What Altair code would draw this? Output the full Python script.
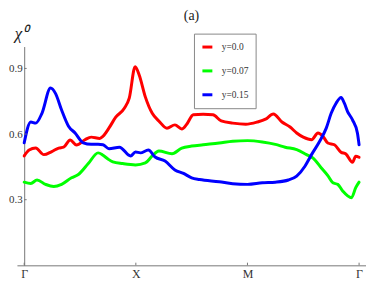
import json
import altair as alt
import pandas as pd

# ---- data ----
series_names = ["y=0.0", "y=0.07", "y=0.15"]
series_colors = ["#ff0000", "#00ff00", "#0000ff"]

red_k = [0, 0.044, 0.103, 0.176, 0.247, 0.309, 0.353, 0.412, 0.468, 0.544, 0.60, 0.677, 0.706, 0.76,
         0.82, 0.897, 0.941, 0.994, 1.03, 1.085, 1.147, 1.206, 1.279, 1.35, 1.412, 1.456, 1.515, 1.603,
         1.691, 1.765, 1.868, 1.985, 2.088, 2.162, 2.232, 2.309, 2.382, 2.441, 2.50, 2.574, 2.632, 2.676,
         2.72, 2.779, 2.838, 2.882, 2.941, 2.97, 3.0]
red_v = [0.50, 0.527, 0.536, 0.506, 0.52, 0.536, 0.54, 0.573, 0.55, 0.574, 0.586, 0.58, 0.59, 0.628,
         0.677, 0.718, 0.764, 0.908, 0.87, 0.77, 0.695, 0.66, 0.627, 0.642, 0.623, 0.645, 0.688, 0.69,
         0.688, 0.66, 0.65, 0.645, 0.655, 0.668, 0.692, 0.655, 0.632, 0.605, 0.586, 0.574, 0.605, 0.59,
         0.559, 0.551, 0.517, 0.509, 0.471, 0.499, 0.494]

green_k = [0, 0.059, 0.115, 0.191, 0.265, 0.335, 0.424, 0.485, 0.574, 0.662, 0.706, 0.75, 0.794, 0.882,
           0.997, 1.085, 1.147, 1.206, 1.324, 1.412, 1.5, 1.603, 1.747, 1.868, 2.0, 2.133, 2.25, 2.338,
           2.441, 2.529, 2.588, 2.662, 2.72, 2.765, 2.809, 2.853, 2.932, 2.97, 3.0]
green_v = [0.38, 0.374, 0.39, 0.37, 0.36, 0.37, 0.40, 0.415, 0.465, 0.514, 0.503, 0.486, 0.473, 0.465,
           0.459, 0.468, 0.50, 0.523, 0.51, 0.536, 0.545, 0.551, 0.559, 0.567, 0.57, 0.564, 0.553, 0.54,
           0.529, 0.506, 0.49, 0.445, 0.41, 0.377, 0.37, 0.34, 0.309, 0.355, 0.38]

blue_k = [0, 0.059, 0.103, 0.159, 0.236, 0.28, 0.335, 0.397, 0.456, 0.529, 0.60, 0.662, 0.706, 0.76,
          0.853, 0.953, 0.997, 1.041, 1.112, 1.173, 1.262, 1.35, 1.427, 1.5, 1.571, 1.747, 1.868, 2.0,
          2.133, 2.25, 2.367, 2.441, 2.515, 2.574, 2.647, 2.706, 2.75, 2.794, 2.839, 2.868, 2.897,
          2.941, 2.985, 3.0]
blue_v = [0.56, 0.655, 0.65, 0.695, 0.81, 0.786, 0.71, 0.636, 0.605, 0.56, 0.553, 0.553, 0.551, 0.533,
          0.54, 0.50, 0.518, 0.514, 0.527, 0.495, 0.477, 0.436, 0.42, 0.40, 0.392, 0.382, 0.373, 0.37,
          0.377, 0.38, 0.39, 0.408, 0.453, 0.506, 0.567, 0.627, 0.695, 0.741, 0.767, 0.741, 0.703,
          0.665, 0.605, 0.551]

x_ticks = [0, 1, 2, 3]
x_labels = ["Γ", "X", "M", "Γ"]
y_ticks = [0.3, 0.6, 0.9]

# ---- tables ----
rows = []
for name, ks, vs in zip(series_names, [red_k, green_k, blue_k], [red_v, green_v, blue_v]):
    for i, (k, v) in enumerate(zip(ks, vs)):
        rows.append({"k": k, "chi": v, "series": name, "order": i})
df = pd.DataFrame(rows)

xt_df = pd.DataFrame({"k": x_ticks})
yt_df = pd.DataFrame({"chi": y_ticks})

XMIN, XMAX = -0.065, 3.062
W, H = 351, 220
px_per_unit = W / (XMAX - XMIN)
y_offset = XMIN * px_per_unit  # negative: moves the y axis right onto k=0

xscale = alt.Scale(domain=[XMIN, XMAX], nice=False, zero=False)
yscale = alt.Scale(domain=[0, 1], nice=False)

axis_col = "#777777"
serif = "Liberation Serif"

label_expr = json.dumps(x_labels) + "[datum.value]"

lines = alt.Chart(df).mark_line(strokeWidth=3, interpolate="monotone", strokeCap="round",
                                strokeJoin="round").encode(
    x=alt.X("k:Q", scale=xscale,
            axis=alt.Axis(values=x_ticks, labelExpr=label_expr, grid=False, ticks=False,
                          domainColor=axis_col, labelFont=serif, labelFontSize=12,
                          labelColor="#333333", labelPadding=3, title=None)),
    y=alt.Y("chi:Q", scale=yscale,
            axis=alt.Axis(values=y_ticks, format=".1f", offset=y_offset, ticks=False, grid=False,
                          domainColor=axis_col, labelFont=serif, labelFontSize=11,
                          labelColor="#333333", labelPadding=2,
                          title="χ⁰", titleAngle=0, titleX=-10, titleY=-4, titleAlign="left",
                          titleBaseline="bottom", titleFont=serif, titleFontSize=17,
                          titleFontStyle="italic", titleFontWeight="normal", titleColor="#222222")),
    color=alt.Color("series:N",
                    scale=alt.Scale(domain=series_names, range=series_colors),
                    sort=series_names,
                    legend=alt.Legend(orient="none", legendX=178, legendY=-13, title=None,
                                      symbolType="stroke", symbolStrokeWidth=3, symbolSize=100,
                                      labelFont=serif, labelFontSize=9.5, labelColor="#333333",
                                      strokeColor="#888888", fillColor="white", padding=7,
                                      rowPadding=11, labelOffset=8)),
    order="order:Q",
)

xticks = alt.Chart(xt_df).mark_rule(color=axis_col, strokeWidth=1).encode(
    x=alt.X("k:Q", scale=xscale),
    y=alt.datum(0, scale=yscale) if False else alt.YDatum(0),
    y2=alt.datum(0.012),
)

yticks = alt.Chart(yt_df).mark_rule(color=axis_col, strokeWidth=1).encode(
    y=alt.Y("chi:Q", scale=yscale),
    x=alt.XDatum(0),
    x2=alt.datum(0.022),
)

chart = alt.layer(lines, xticks, yticks).properties(
    width=W, height=H,
    padding={"left": 0, "top": 0, "right": 0, "bottom": 0},
    title=alt.TitleParams("(a)", font=serif, fontSize=14, fontWeight="normal", anchor="middle",
                          offset=2, color="#222222"),
).configure_view(strokeWidth=0)

chart.save("out.html", embed_options={"renderer": "svg", "actions": False})
